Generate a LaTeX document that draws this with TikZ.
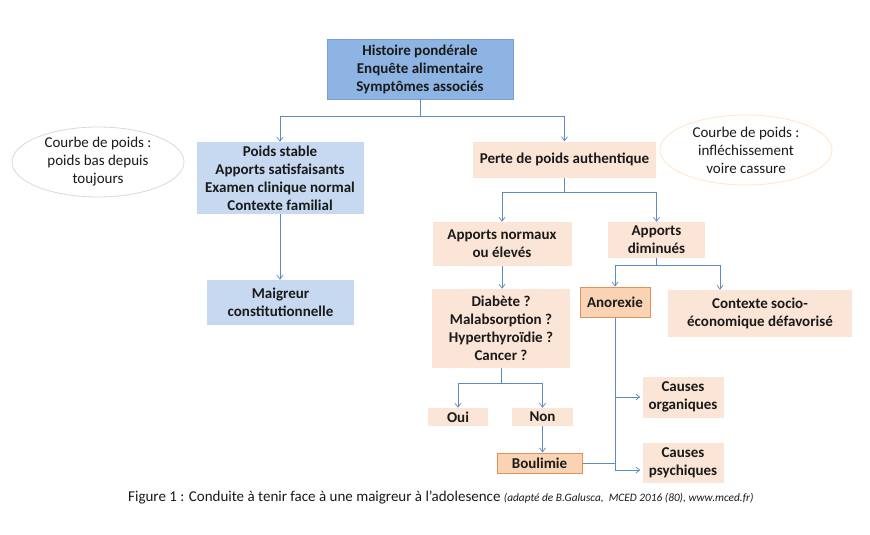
\documentclass[tikz,border=0pt]{standalone}
\usepackage{fontspec}
\setmainfont{Carlito}
\usetikzlibrary{arrows.meta,shapes.geometric,calc}
\definecolor{topblue}{HTML}{8EB4E3}
\definecolor{topborder}{HTML}{7A9FCF}
\definecolor{lightblue}{HTML}{C6D9F1}
\definecolor{peach}{HTML}{FBE5D6}
\definecolor{peachdark}{HTML}{FAD3B4}
\definecolor{orangeborder}{HTML}{E0925C}
\definecolor{linecol}{HTML}{5B8BC0}
\definecolor{txt}{HTML}{1A1A1A}
\tikzset{
  x=1pt,y=-1pt,
  box/.style={inner sep=0pt,align=center,font=\fontsize{15}{18}\selectfont\bfseries,text=txt},
  topbox/.style={box,fill=topblue,draw=topborder,line width=0.8pt},
  bluebox/.style={box,fill=lightblue},
  peachbox/.style={box,fill=peach},
  hotbox/.style={box,fill=peachdark,draw=orangeborder,line width=1pt},
  note/.style={ellipse,draw,line width=0.8pt,fill=white,inner sep=0pt,align=center,font=\fontsize{15}{18}\selectfont,text=txt},
  conn/.style={draw=linecol,line width=0.7pt},
  arr/.style={conn,-{Straight Barb[length=4pt,width=6pt]}},
}
\begin{document}
\begin{tikzpicture}
\useasboundingbox (0,0) rectangle (870,535);
\fill[white] (0,0) rectangle (870,535);
\node[topbox,minimum width=186pt,minimum height=60pt] (top) at (420,69) {Histoire pondérale\\Enquête alimentaire\\Symptômes associés};
\node[bluebox,minimum width=167pt,minimum height=72pt] (stable) at (280,178) {Poids stable\\Apports satisfaisants\\Examen clinique normal\\Contexte familial};
\node[note,draw=black!15,minimum width=172pt,minimum height=70pt] (ell1) at (98,162) {Courbe de poids :\\poids bas depuis\\toujours};
\node[peachbox,minimum width=183pt,minimum height=36pt] (perte) at (564.5,159.5) {Perte de poids authentique};
\node[note,draw=orange!20,minimum width=172pt,minimum height=70pt] (ell2) at (746,150) {Courbe de poids :\\infléchissement\\voire cassure};
\node[bluebox,minimum width=147pt,minimum height=45pt] (maigreur) at (280.5,302.5) {Maigreur\\constitutionnelle};
\node[peachbox,minimum width=139pt,minimum height=44pt] (normaux) at (502,244) {Apports normaux\\ou élevés};
\node[peachbox,minimum width=97pt,minimum height=36pt] (dimin) at (656.5,240) {Apports\\diminués};
\node[peachbox,minimum width=138pt,minimum height=79pt] (diab) at (501,328.5) {Diabète ?\\Malabsorption ?\\Hyperthyroïdie ?\\Cancer ?};
\node[hotbox,minimum width=70pt,minimum height=30pt] (anorexie) at (615,302) {Anorexie};
\node[peachbox,minimum width=184pt,minimum height=47pt] (ctx) at (760,313.5) {Contexte socio-\\économique défavorisé};
\node[peachbox,minimum width=81pt,minimum height=41pt] (org) at (683,397) {Causes\\organiques};
\node[peachbox,minimum width=81pt,minimum height=40pt] (psy) at (683,463) {Causes\\psychiques};
\node[peachbox,minimum width=60pt,minimum height=18pt] (oui) at (458,417) {Oui};
\node[peachbox,minimum width=61pt,minimum height=18pt] (non) at (542.5,417) {Non};
\node[hotbox,minimum width=85pt,minimum height=20pt] (boul) at (539.5,463) {Boulimie};
% connectors
\coordinate (j1) at (420,116);
\draw[conn] (top.south) -- (j1);
\draw[arr] (j1) -| (stable.north);
\draw[arr] (j1) -| (perte.north);
\draw[arr] (stable.south) -- (stable.south |- maigreur.north);
\coordinate (j2) at (564.5,192);
\draw[conn] (perte.south) -- (j2);
\draw[arr] (j2) -| (normaux.north);
\draw[arr] (j2) -| (dimin.north);
\draw[arr] (normaux.south) -- (normaux.south |- diab.north);
\coordinate (j3) at (656.5,265);
\draw[conn] (dimin.south) -- (j3);
\draw[arr] (j3) -| (anorexie.north);
\draw[arr] (j3) -| ([xshift=-40pt]ctx.north);
\coordinate (j4) at (501,383);
\draw[conn] (diab.south) -- (j4);
\draw[arr] (j4) -| (oui.north);
\draw[arr] (j4) -| (non.north);
\draw[arr] (non.south) -- (non.south |- boul.north);
\coordinate (a1) at (anorexie.south |- org.west);
\coordinate (a2) at ([yshift=-7pt]anorexie.south |- psy.west);
\coordinate (a3) at (anorexie.south |- boul.east);
\draw[conn] (anorexie.south) -- (a2);
\draw[arr] (a1) -- ([xshift=-2pt]org.west);
\draw[arr] (a2) -- ([xshift=-2pt]a2 -| psy.west);
\draw[conn] (boul.east) -- (a3);
% caption
\node[anchor=west,inner sep=0pt,text=txt,font=\fontsize{15}{18}\selectfont] (cap) at (128,497) {Figure 1 : Conduite à tenir face à une maigreur à l’adolesence {\itshape\fontsize{11.3}{13}\selectfont (adapté de B.Galusca,\ \ MCED 2016 (80), www.mced.fr)}};
\end{tikzpicture}
\end{document}
